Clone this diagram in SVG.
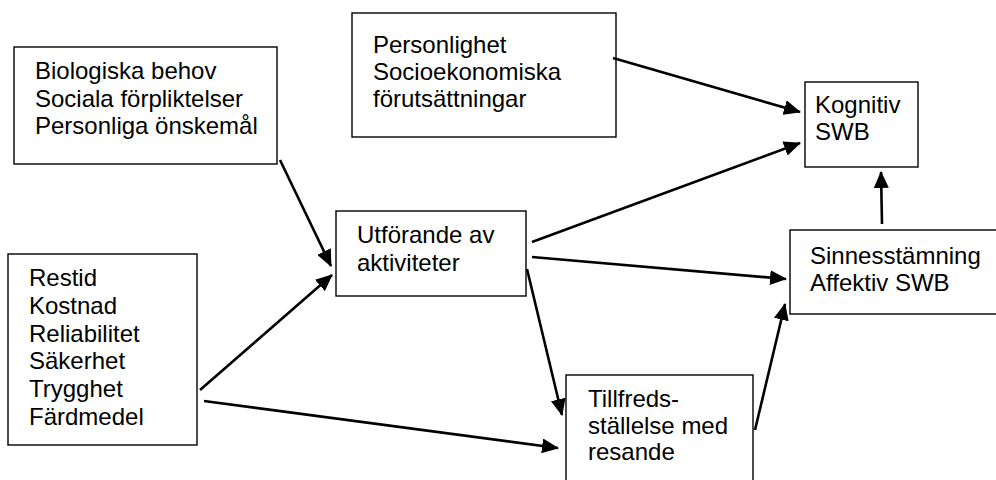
<svg xmlns="http://www.w3.org/2000/svg" width="996" height="480" viewBox="0 0 996 480">
<style>
.box{fill:#fff;stroke:#000;stroke-width:1.4}
.t{font-family:"Liberation Sans",Arial,sans-serif;font-size:24px;fill:#000}
.c{stroke:#000;stroke-width:2.6;fill:none;marker-end:url(#ah)}
</style>
<defs>
<marker id="ah" viewBox="0 0 17 15" refX="16" refY="7.5" markerWidth="17" markerHeight="15" markerUnits="userSpaceOnUse" orient="auto">
<path d="M0,0 L17,7.5 L0,15 Z" fill="#000"/>
</marker>
</defs>
<rect width="996" height="480" fill="#fff"/>
<g id="bio">
<rect class="box" x="14" y="47" width="263" height="117"/>
<text class="t" x="35" y="79">Biologiska behov</text>
<text class="t" x="35" y="107">Sociala förpliktelser</text>
<text class="t" x="35" y="134">Personliga önskemål</text>
</g>
<g id="pers">
<rect class="box" x="352" y="13" width="264" height="124"/>
<text class="t" x="373" y="53">Personlighet</text>
<text class="t" x="373" y="80">Socioekonomiska</text>
<text class="t" x="373" y="107">förutsättningar</text>
</g>
<g id="kog">
<rect class="box" x="805" y="82" width="113" height="85"/>
<text class="t" x="815" y="113">Kognitiv</text>
<text class="t" x="815" y="140">SWB</text>
</g>
<g id="sinnes">
<rect class="box" x="790" y="230" width="220" height="84"/>
<text class="t" x="810" y="264">Sinnesstämning</text>
<text class="t" x="810" y="291">Affektiv SWB</text>
</g>
<g id="restid">
<rect class="box" x="8" y="254" width="189" height="191"/>
<text class="t" x="29" y="286">Restid</text>
<text class="t" x="29" y="314">Kostnad</text>
<text class="t" x="29" y="342">Reliabilitet</text>
<text class="t" x="29" y="369">Säkerhet</text>
<text class="t" x="29" y="397">Trygghet</text>
<text class="t" x="29" y="425">Färdmedel</text>
</g>
<g id="utf">
<rect class="box" x="336" y="211" width="190" height="85"/>
<text class="t" x="357" y="243">Utförande av</text>
<text class="t" x="357" y="271">aktiviteter</text>
</g>
<g id="till">
<rect class="box" x="566" y="375" width="187" height="120"/>
<text class="t" x="588" y="407">Tillfreds-</text>
<text class="t" x="588" y="434">ställelse med</text>
<text class="t" x="588" y="460">resande</text>
</g>
<g id="connectors">
<line class="c" x1="613" y1="58" x2="800" y2="112"/>
<line class="c" x1="280" y1="160" x2="331" y2="266"/>
<line class="c" x1="200" y1="390" x2="332" y2="275"/>
<line class="c" x1="204" y1="401" x2="558" y2="448"/>
<line class="c" x1="532" y1="242" x2="800" y2="143"/>
<line class="c" x1="532" y1="257" x2="786" y2="279"/>
<line class="c" x1="527" y1="269" x2="562" y2="415"/>
<line class="c" x1="755" y1="430" x2="785" y2="304"/>
<line class="c" x1="882" y1="224" x2="881" y2="172"/>
</g>
</svg>
